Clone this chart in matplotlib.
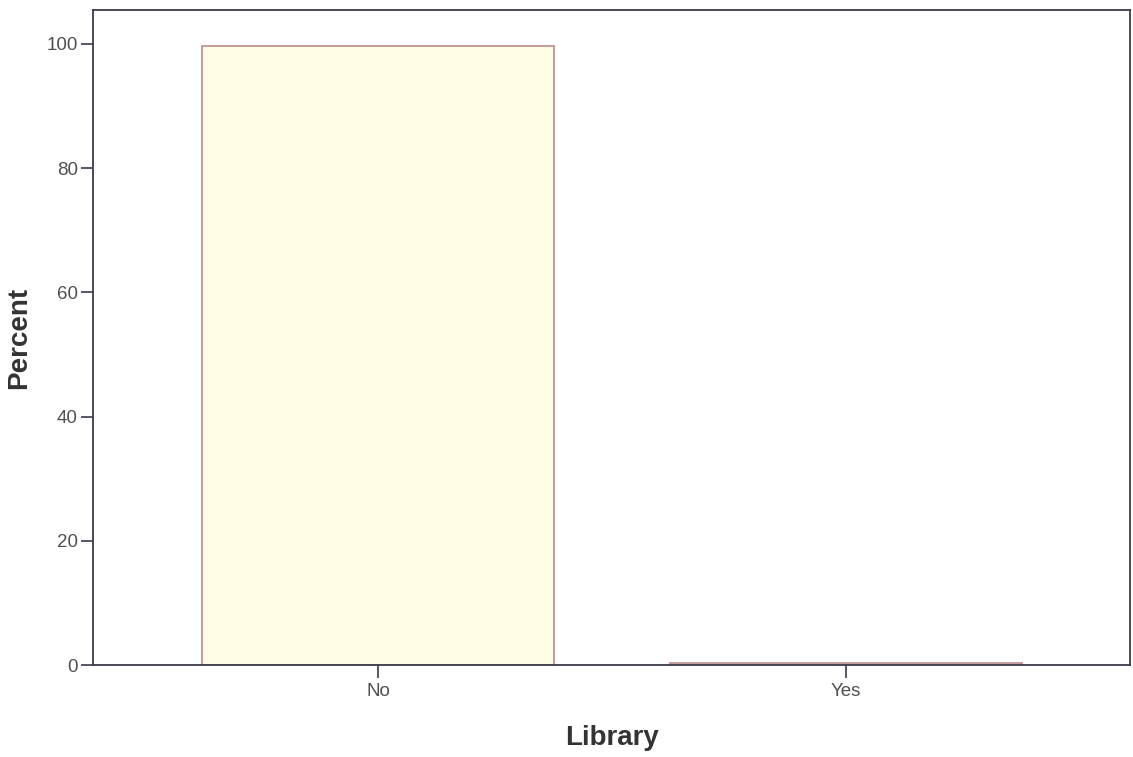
import matplotlib
matplotlib.use("Agg")
import matplotlib.pyplot as plt

categories = ["No", "Yes"]
percents = [99.6, 0.4]
yticks = [0, 20, 40, 60, 80, 100]

plt.rcParams['font.family'] = ['Liberation Sans', 'DejaVu Sans']

fig = plt.figure(figsize=(11.33, 7.57), dpi=100)
ax = fig.add_axes([0.0821, 0.1215, 0.9153, 0.8653])

x = list(range(len(categories)))
ax.bar(x, percents, width=0.752, color='#FEFCE4', edgecolor='#B88C8C', linewidth=1.2)

ax.set_xlim(-0.609, 1.607)
ax.set_ylim(0, 105.47)
ax.set_xticks(x)
ax.set_xticklabels(categories)
ax.set_yticks(yticks)
ax.set_yticklabels([str(v) for v in yticks])

spine_color = '#3A3A4A'
for s in ax.spines.values():
    s.set_color(spine_color)
    s.set_linewidth(1.3)

ax.tick_params(axis='both', direction='out', length=9, width=1.2, color=spine_color,
               labelsize=13.5, labelcolor='#505050')
ax.tick_params(axis='x', pad=4)
ax.tick_params(axis='y', pad=2)

ax.set_xlabel('Library', fontsize=20, fontweight='bold', color='#333333', labelpad=18)
ax.set_ylabel('Percent', fontsize=20, fontweight='bold', color='#333333', labelpad=10)

fig.savefig('out.png', dpi=100)
